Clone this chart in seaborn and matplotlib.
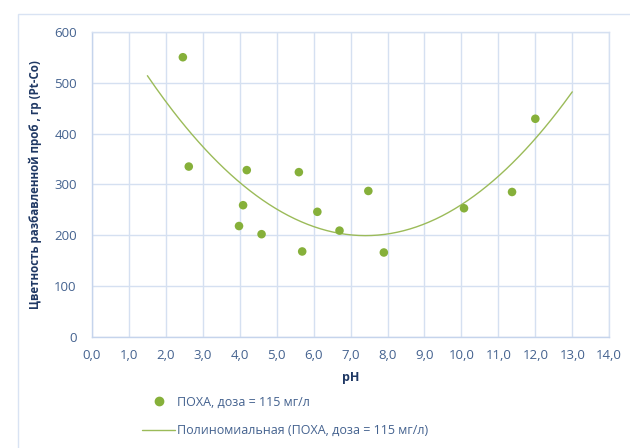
import numpy as np
import pandas as pd
import matplotlib
matplotlib.use("Agg")
import matplotlib.pyplot as plt
import matplotlib.ticker as mticker
from matplotlib.patches import Rectangle
from matplotlib.lines import Line2D
import seaborn as sns

# ── data ──────────────────────────────────────────────────────────────────────
ph = [2.46, 2.62, 4.19, 4.09, 3.98, 4.59, 5.60, 5.69, 6.10, 6.70, 7.48, 7.90, 10.07, 11.37, 12.00]
color_pt = [550, 335, 328, 259, 218, 202, 324, 168, 246, 209, 287, 166, 253, 285, 429]
trend_from, trend_to = 1.5, 13.0

SERIES = "ПОХА, доза = 115 мг/л"
TREND = "Полиномиальная (ПОХА, доза = 115 мг/л)"
XLABEL = "pH"
YLABEL = "Цветность разбавленной проб , гр (Pt-Co)"

GREEN = "#86B03A"
LINE = "#9BBB59"
GRID = "#D5E0F1"
TICK = "#44628F"
NAVY = "#1F3864"

sns.set_theme(style="white")
plt.rcParams["font.family"] = ["Open Sans", "DejaVu Sans"]

df = pd.DataFrame({"pH": ph, "color": color_pt})

# 2nd order polynomial trendline, like Excel
coef = np.polyfit(df["pH"], df["color"], 2)
xs = np.linspace(trend_from, trend_to, 200)
trend = pd.DataFrame({"pH": xs, "color": np.polyval(coef, xs)})

fig = plt.figure(figsize=(6.3, 4.48), dpi=100)
ax = fig.add_axes([0.146, 0.248, 0.821, 0.681])

fig.patches.append(Rectangle((0.0286, -0.05), 1.2, 0.969 + 0.05, transform=fig.transFigure,
                             fill=False, edgecolor="#D9E3F3", linewidth=1.0, zorder=0))

sns.lineplot(data=trend, x="pH", y="color", ax=ax, color=LINE, linewidth=1.0, zorder=2)
sns.scatterplot(data=df, x="pH", y="color", ax=ax, color=GREEN, s=38, edgecolor="none", zorder=3)

ax.set_xlim(0, 14)
ax.set_ylim(0, 600)
ax.xaxis.set_major_locator(mticker.MultipleLocator(1))
ax.yaxis.set_major_locator(mticker.MultipleLocator(100))
ax.xaxis.set_major_formatter(mticker.FuncFormatter(lambda v, _: f"{v:.1f}".replace(".", ",")))
ax.grid(True, color=GRID, linewidth=1.0)
for s in ax.spines.values():
    s.set_color(GRID)
    s.set_linewidth(1.0)
ax.spines["left"].set_color("#C5D4EC")
ax.spines["bottom"].set_color("#C5D4EC")
ax.tick_params(axis="x", length=0, labelsize=9.5, labelcolor=TICK, pad=9)
ax.tick_params(axis="y", length=0, labelsize=9.5, labelcolor=TICK, pad=11)

ax.set_xlabel(XLABEL, fontsize=9, fontweight="bold", color=NAVY, labelpad=6)
ax.set_ylabel(YLABEL, fontsize=8.3, fontweight="bold", color=NAVY, labelpad=9)

handles = [
    Line2D([], [], marker="o", linestyle="none", color=GREEN, markersize=6),
    Line2D([], [], color=LINE, linewidth=1.0),
]
fig.legend(handles, [SERIES, TREND], loc="upper left", bbox_to_anchor=(0.218, 0.128),
           frameon=False, fontsize=9, labelcolor=TICK, handlelength=2.6,
           handletextpad=0.2, labelspacing=1.25, borderaxespad=0)

fig.savefig("out.png", dpi=100)
